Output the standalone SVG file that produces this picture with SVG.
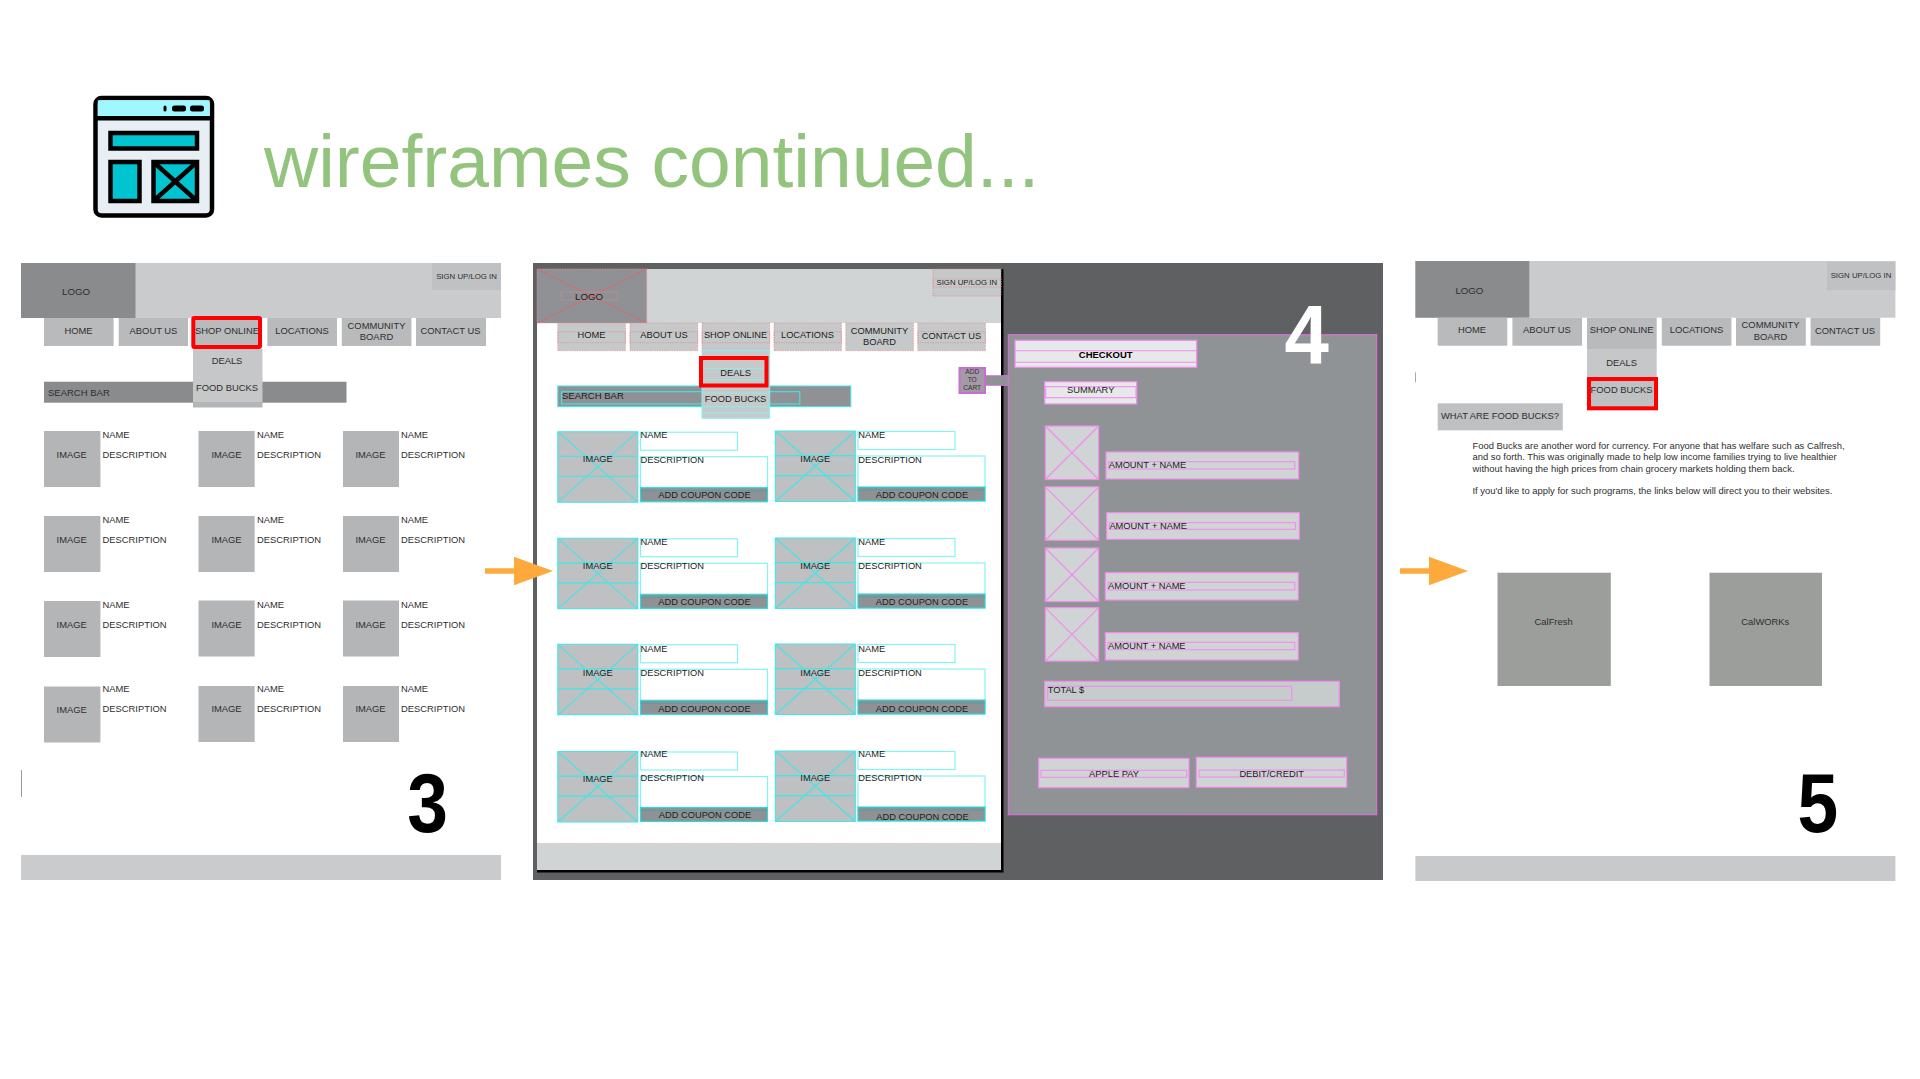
<svg xmlns="http://www.w3.org/2000/svg" xmlns:xlink="http://www.w3.org/1999/xlink" width="1920" height="1079" viewBox="0 0 1920 1079">
<style>
text{font-family:"Liberation Sans",Arial,sans-serif;fill:#2e2e2e;font-size:9.4px}
.m{text-anchor:middle}
.p4 text{fill:#1c1c1c;font-size:9.3px}
text.big{font-size:84px;font-weight:700;fill:#000;text-anchor:middle}
.sm{font-size:7.8px}
.g1{fill:#cacbcd}.g2{fill:#8a8b8d}.g3{fill:#b9babc}.g4{fill:#b4b5b7}.g5{fill:#c6c7c9}
.red{fill:none;stroke:#f00;stroke-width:4}
.cy{fill:none;stroke:#3fe6ea;stroke-width:1.1}
.cyl{fill:#fff;stroke:#86f2f2;stroke-width:1.2}
.rd{fill:#c6c9ca;stroke:#e58a92;stroke-width:.7;stroke-dasharray:1.5 1}
.rl{fill:none;stroke:#e58a92;stroke-width:.7;stroke-dasharray:1.5 1}
.pk{fill:#d0d4d5;stroke:#f48af0;stroke-width:1.2}
.pn{fill:none;stroke:#f48af0;stroke-width:1.1}
.ar{fill:#fda93c}
.ik{stroke:#000;stroke-width:4.5}
</style>
<defs>
<g id="card">
<rect class="cyl" x="82.7" y="0.5" width="97" height="18"/>
<rect class="cyl" x="82.7" y="25" width="127" height="45"/>
<rect x="82.7" y="56" width="127" height="14" fill="#8f9194" stroke="#1fe0e4" stroke-width="1.1"/>
<line x1="82.7" y1="59" x2="209.7" y2="59" stroke="#3aa7ab" stroke-width=".8"/>
<rect x="0" y="0" width="80" height="70.5" fill="#bec0c1"/>
<path class="cy" d="M0 0H80V70.5H0ZM0 0L80 70.5M80 0L0 70.5M0 24.6H80M0 44.6H80"/>
</g>
<g id="thumb">
<rect class="pk" width="53.4" height="53.5"/>
<path class="pn" d="M0 0L53.4 53.5M53.4 0L0 53.5"/>
</g>
<path id="arrow" d="M0 -2.8H29V-14.2L68 0L29 14.2V2.8H0Z"/>
</defs>
<rect width="1920" height="1079" fill="#fff"/>

<g id="icon">
<rect x="95.5" y="98" width="116.5" height="117.5" rx="6" fill="#e8eff4" class="ik"/>
<path d="M97.8 100.3H209.7V116H97.8Z" fill="#9ff7ff"/>
<rect x="95.5" y="116" width="116.5" height="4.5" fill="#000"/>
<rect x="163.5" y="105.5" width="3" height="6" rx="1.5" fill="#000"/>
<rect x="172" y="105.5" width="14" height="6" rx="2.5" fill="#000"/>
<rect x="190" y="105.5" width="14" height="6" rx="2.5" fill="#000"/>
<rect x="110.5" y="133" width="86.5" height="15.5" fill="#00c4cf" class="ik"/>
<rect x="110.5" y="162" width="29" height="39" fill="#00c4cf" class="ik"/>
<rect x="153.5" y="162" width="43.5" height="39" fill="#00c4cf" class="ik"/>
<path d="M153.5 162L197 201M197 162L153.5 201" class="ik" fill="none"/>
</g>
<text id="title" x="264" y="187" style="font-size:75px;fill:#93c47d">wireframes continued...</text>

<g id="wireframe-3">
<rect class="g1" x="21" y="263" width="480" height="55"/>
<rect class="g2" x="21" y="263" width="114.5" height="55"/>
<rect x="432" y="263" width="69" height="27" fill="#c0c1c3"/>
<text class="m" x="76" y="294.5" style="font-size:9.7px">LOGO</text>
<text class="m sm" x="466.5" y="279">SIGN UP/LOG IN</text>
<rect class="g2" x="44" y="381.7" width="302.5" height="21"/>
<text x="48" y="395.5" style="font-size:9.5px">SEARCH BAR</text>
<rect class="g3" x="44" y="318" width="69.6" height="28"/><text class="m" x="78.5" y="334">HOME</text>
<rect class="g3" x="118.7" y="318" width="69.3" height="28"/><text class="m" x="153.5" y="334">ABOUT US</text>
<rect class="g3" x="193" y="318" width="69" height="28"/><text class="m" x="227" y="334">SHOP ONLINE</text>
<rect class="g3" x="267.4" y="318" width="69.6" height="28"/><text class="m" x="302" y="334">LOCATIONS</text>
<rect class="g3" x="341.8" y="318" width="69.6" height="28"/><text class="m" x="376.5" y="329">COMMUNITY</text><text class="m" x="376.5" y="340">BOARD</text>
<rect class="g3" x="416" y="318" width="70" height="28"/><text class="m" x="450.5" y="334">CONTACT US</text>
<rect class="g5" x="193" y="349" width="69.5" height="53"/>
<rect class="g4" x="193" y="402" width="69.5" height="5.5"/>
<text class="m" x="227" y="364.3">DEALS</text>
<text class="m" x="227" y="391.3">FOOD BUCKS</text>
<rect class="red" x="193.3" y="318" width="66.7" height="29" rx="1"/>
<g class="g4">
<rect x="44" y="431" width="56.4" height="56"/><rect x="198.5" y="431" width="56.2" height="56"/><rect x="343" y="431" width="56" height="56"/>
<rect x="44" y="516" width="56.4" height="56"/><rect x="198.5" y="516" width="56.2" height="56"/><rect x="343" y="516" width="56" height="56"/>
<rect x="44" y="601" width="56.4" height="56"/><rect x="198.5" y="600.5" width="56.2" height="56"/><rect x="343" y="600.5" width="56" height="56"/>
<rect x="44" y="686.5" width="56.4" height="56"/><rect x="198.5" y="686" width="56.2" height="56"/><rect x="343" y="686" width="56" height="56"/>
</g>
<text class="m" x="71.7" y="457.5">IMAGE</text><text class="m" x="226.5" y="457.5">IMAGE</text><text class="m" x="370.5" y="457.5">IMAGE</text>
<text class="m" x="71.7" y="542.7">IMAGE</text><text class="m" x="226.5" y="542.7">IMAGE</text><text class="m" x="370.5" y="542.7">IMAGE</text>
<text class="m" x="71.7" y="627.7">IMAGE</text><text class="m" x="226.5" y="627.7">IMAGE</text><text class="m" x="370.5" y="627.7">IMAGE</text>
<text class="m" x="71.7" y="713">IMAGE</text><text class="m" x="226.5" y="712">IMAGE</text><text class="m" x="370.5" y="712">IMAGE</text>
<text x="102.5" y="437.5">NAME</text><text x="257" y="437.5">NAME</text><text x="401" y="437.5">NAME</text>
<text x="102.5" y="457.5">DESCRIPTION</text><text x="257" y="457.5">DESCRIPTION</text><text x="401" y="457.5">DESCRIPTION</text>
<text x="102.5" y="522.5">NAME</text><text x="257" y="522.5">NAME</text><text x="401" y="522.5">NAME</text>
<text x="102.5" y="542.7">DESCRIPTION</text><text x="257" y="542.7">DESCRIPTION</text><text x="401" y="542.7">DESCRIPTION</text>
<text x="102.5" y="607.5">NAME</text><text x="257" y="607.5">NAME</text><text x="401" y="607.5">NAME</text>
<text x="102.5" y="627.7">DESCRIPTION</text><text x="257" y="627.7">DESCRIPTION</text><text x="401" y="627.7">DESCRIPTION</text>
<text x="102.5" y="692.3">NAME</text><text x="257" y="692.3">NAME</text><text x="401" y="692.3">NAME</text>
<text x="102.5" y="712">DESCRIPTION</text><text x="257" y="712">DESCRIPTION</text><text x="401" y="712">DESCRIPTION</text>
<line x1="21.5" y1="770" x2="21.5" y2="797" stroke="#9a9a9a"/>
<text class="big" transform="translate(427.6 832) scale(.87 1)">3</text>
<rect class="g1" x="21" y="855" width="480" height="25"/>
</g>

<g id="wireframe-4" class="p4">
<rect x="533" y="263" width="850" height="617" fill="#5f6062"/>
<rect x="537" y="269" width="466.5" height="603.5" fill="#000"/>
<rect x="537" y="269" width="464" height="601" fill="#fff"/>
<rect x="537" y="269" width="464" height="54" fill="#d0d4d5"/>
<rect x="537" y="269" width="109.7" height="54" fill="#8f9194"/>
<path d="M537 269L646.7 323M646.7 269L537 323" fill="none" stroke="#e8606a" stroke-width=".8"/>
<rect class="rl" x="537" y="269" width="109.7" height="54"/>
<rect class="rl" x="561" y="292" width="56.6" height="8"/>
<text class="m" x="589" y="299.7" style="font-size:9.7px">LOGO</text>
<rect class="rd" x="933" y="269" width="68" height="27"/>
<rect class="rl" x="933" y="279" width="68" height="8"/>
<text class="m sm" x="966.8" y="285.2" style="font-size:7.8px">SIGN UP/LOG IN</text>
<rect class="rd" x="557.8" y="323" width="67.6" height="27.7"/><rect class="rl" x="557.8" y="331.7" width="67.6" height="11"/><text class="m" x="591.5" y="338">HOME</text>
<rect class="rd" x="630" y="323" width="67.7" height="27.7"/><rect class="rl" x="630" y="331.7" width="67.7" height="11"/><text class="m" x="664" y="338">ABOUT US</text>
<rect class="rd" x="702" y="323" width="67.7" height="27.7"/><rect class="rl" x="702" y="331.7" width="67.7" height="11"/><text class="m" x="735.6" y="338">SHOP ONLINE</text>
<rect class="rd" x="774" y="323" width="67.4" height="27.7"/><rect class="rl" x="774" y="331.7" width="67.4" height="11"/><text class="m" x="807.5" y="338">LOCATIONS</text>
<rect class="rd" x="845.8" y="323" width="67.6" height="27.7"/><text class="m" x="879.5" y="333.5">COMMUNITY</text><text class="m" x="879.5" y="344.5">BOARD</text>
<rect class="rd" x="917.8" y="323" width="67.6" height="27.7"/><rect class="rl" x="917.8" y="331.7" width="67.6" height="11"/><text class="m" x="951.5" y="338.7">CONTACT US</text>
<rect x="557.8" y="386" width="293" height="20.7" fill="#8f9194" stroke="#3fe6ea" stroke-width="1"/>
<rect class="cy" x="561.5" y="391.7" width="238.3" height="12.3"/>
<text x="562" y="399.3" style="font-size:9.5px">SEARCH BAR</text>
<rect x="702" y="350.7" width="67.7" height="67.6" fill="#c6c9ca" stroke="#86f2f2" stroke-width="1"/>
<path d="M702 368.3H769.7M702 380H769.7M702 393H769.7M702 406.7H769.7M702 412.7H769.7" fill="none" stroke="#86f2f2" stroke-width=".9"/>
<text class="m" x="735.6" y="375.5">DEALS</text>
<text class="m" x="735.6" y="402">FOOD BUCKS</text>
<rect class="red" x="701" y="358" width="65.5" height="27.5"/>

<use xlink:href="#card" href="#card" x="557.8" y="431.7"/>
<use xlink:href="#card" href="#card" x="775.3" y="431"/>
<use xlink:href="#card" href="#card" x="557.8" y="538.3"/>
<use xlink:href="#card" href="#card" x="775.3" y="538"/>
<use xlink:href="#card" href="#card" x="557.8" y="644.3"/>
<use xlink:href="#card" href="#card" x="775.3" y="644"/>
<use xlink:href="#card" href="#card" x="557.8" y="751.5"/>
<use xlink:href="#card" href="#card" x="775.3" y="751"/>

<text class="m" x="597.8" y="462">IMAGE</text><text class="m" x="815.3" y="462">IMAGE</text>
<text x="640.5" y="438">NAME</text><text x="858.3" y="438">NAME</text>
<text x="640.5" y="462.5">DESCRIPTION</text><text x="858.3" y="462.5">DESCRIPTION</text>
<text class="m" x="704.5" y="498.3">ADD COUPON CODE</text><text class="m" x="922" y="497.7">ADD COUPON CODE</text>
<text class="m" x="597.8" y="569">IMAGE</text><text class="m" x="815.3" y="569">IMAGE</text>
<text x="640.5" y="544.5">NAME</text><text x="858.3" y="544.5">NAME</text>
<text x="640.5" y="569">DESCRIPTION</text><text x="858.3" y="569">DESCRIPTION</text>
<text class="m" x="704.5" y="605">ADD COUPON CODE</text><text class="m" x="922" y="604.7">ADD COUPON CODE</text>
<text class="m" x="597.8" y="675.5">IMAGE</text><text class="m" x="815.3" y="675.5">IMAGE</text>
<text x="640.5" y="651.5">NAME</text><text x="858.3" y="651.5">NAME</text>
<text x="640.5" y="675.5">DESCRIPTION</text><text x="858.3" y="675.5">DESCRIPTION</text>
<text class="m" x="704.5" y="712">ADD COUPON CODE</text><text class="m" x="922" y="712">ADD COUPON CODE</text>
<text class="m" x="597.8" y="782.2">IMAGE</text><text class="m" x="815.3" y="781.2">IMAGE</text>
<text x="640.5" y="757">NAME</text><text x="858.3" y="757">NAME</text>
<text x="640.5" y="781.2">DESCRIPTION</text><text x="858.3" y="781.2">DESCRIPTION</text>
<text class="m" x="705" y="817.7">ADD COUPON CODE</text><text class="m" x="922.5" y="819.7">ADD COUPON CODE</text>

<rect x="537" y="843.3" width="464" height="26.7" fill="#d0d4d5"/>
<line x1="537" y1="843.3" x2="1001" y2="843.3" class="rl" style="opacity:.5"/>

<rect x="985" y="375.7" width="24" height="9.6" fill="#8f9194" stroke="#cf7ad6" stroke-width="1"/>
<rect x="959.5" y="368" width="25.5" height="25" fill="#a39aa6" stroke="#c66fd0" stroke-width="2"/>
<text class="m" x="972.2" y="374" style="font-size:6.6px;fill:#333">ADD</text>
<text class="m" x="972.2" y="382.3" style="font-size:6.6px;fill:#333">TO</text>
<text class="m" x="972.2" y="390.3" style="font-size:6.6px;fill:#333">CART</text>

<rect x="1008.3" y="334.7" width="368.4" height="480" fill="#8f9396" stroke="#e06fe0" stroke-width="1.1"/>
<text class="big" transform="translate(1306.7 364) scale(.95 1)" style="fill:#fff;font-size:84px">4</text>
<rect x="1015" y="340.3" width="181.7" height="27" fill="#e6e8e9" stroke="#f48af0" stroke-width="1.2"/>
<path class="pn" d="M1015 350.7H1196.7M1015 362.3H1196.7"/>
<text class="m" x="1105.7" y="358.3" style="font-weight:700;font-size:9.5px;fill:#000">CHECKOUT</text>
<rect x="1044.7" y="381.7" width="92" height="22.3" fill="#e6e8e9" stroke="#f48af0" stroke-width="1.2"/>
<rect class="pn" x="1045.7" y="386.7" width="90.3" height="11"/>
<text class="m" x="1090.7" y="393.3">SUMMARY</text>

<use xlink:href="#thumb" href="#thumb" x="1045.3" y="426"/>
<use xlink:href="#thumb" href="#thumb" x="1045.3" y="486.8"/>
<use xlink:href="#thumb" href="#thumb" x="1045.3" y="548"/>
<use xlink:href="#thumb" href="#thumb" x="1045.3" y="607.6"/>

<rect class="pk" x="1106" y="452" width="192.7" height="27"/><rect class="pn" x="1108.7" y="461.7" width="186" height="7.3"/><text x="1108.7" y="468.3">AMOUNT + NAME</text>
<rect class="pk" x="1106.7" y="512.7" width="192.6" height="26.6"/><rect class="pn" x="1109.4" y="522.7" width="186" height="6.6"/><text x="1109.4" y="529">AMOUNT + NAME</text>
<rect class="pk" x="1105.3" y="572.7" width="193" height="27.3"/><rect class="pn" x="1108" y="582.3" width="186.7" height="7.7"/><text x="1108" y="588.7">AMOUNT + NAME</text>
<rect class="pk" x="1105.3" y="632.7" width="193" height="27.3"/><rect class="pn" x="1108" y="642.3" width="186.7" height="7.4"/><text x="1108" y="649">AMOUNT + NAME</text>
<rect x="1044.7" y="681.3" width="294.6" height="25.4" fill="#c6cbcc" stroke="#f48af0" stroke-width="1.2"/>
<rect class="pn" x="1047.7" y="686.3" width="244" height="14"/>
<text x="1047.7" y="693.3">TOTAL $</text>
<rect class="pk" x="1038.7" y="758.3" width="150.3" height="29.4"/><rect class="pn" x="1041" y="770.3" width="145.7" height="7"/><text class="m" x="1114" y="777">APPLE PAY</text>
<rect class="pk" x="1196.3" y="757.3" width="150.4" height="30"/><rect class="pn" x="1199" y="770" width="145.3" height="7"/><text class="m" x="1271.7" y="776.7">DEBIT/CREDIT</text>
</g>

<g id="wireframe-5">
<rect class="g1" x="1415.4" y="261" width="480" height="56.7"/>
<rect class="g2" x="1415.4" y="261" width="113.9" height="56.7"/>
<rect x="1827" y="262" width="68.4" height="28" fill="#c0c1c3"/>
<text class="m" x="1469.4" y="293.7" style="font-size:9.7px">LOGO</text>
<text class="m sm" x="1861" y="278.3">SIGN UP/LOG IN</text>
<rect class="g3" x="1437.7" y="317.7" width="69.6" height="28"/><text class="m" x="1472" y="333.3">HOME</text>
<rect class="g3" x="1512.4" y="317.7" width="69.6" height="28"/><text class="m" x="1547" y="333.3">ABOUT US</text>
<rect class="g3" x="1587" y="317.7" width="69.7" height="31.3"/><text class="m" x="1621.6" y="333.3">SHOP ONLINE</text>
<rect class="g3" x="1661.8" y="317.7" width="69.6" height="28"/><text class="m" x="1696.5" y="333.3">LOCATIONS</text>
<rect class="g3" x="1736" y="317.7" width="69.8" height="28"/><text class="m" x="1770.5" y="328.3">COMMUNITY</text><text class="m" x="1770.5" y="339.5">BOARD</text>
<rect class="g3" x="1810.6" y="317.7" width="69.6" height="28"/><text class="m" x="1845" y="333.5">CONTACT US</text>
<rect class="g5" x="1587" y="349" width="69.7" height="28"/>
<text class="m" x="1621.6" y="366">DEALS</text>
<rect x="1589" y="379" width="67" height="29.3" fill="#bfc0c2" stroke="#f00" stroke-width="4"/>
<text class="m" x="1621.6" y="392.7">FOOD BUCKS</text>
<line x1="1415.5" y1="372.3" x2="1415.5" y2="382.3" stroke="#aaa"/>
<rect x="1437.7" y="403.3" width="125.1" height="27" fill="#bfc0c2"/>
<text x="1441" y="419">WHAT ARE FOOD BUCKS?</text>
<text x="1472.5" y="449" style="font-size:9.42px">Food Bucks are another word for currency. For anyone that has welfare such as Calfresh,</text>
<text x="1472.5" y="460.3" style="font-size:9.42px">and so forth. This was originally made to help low income families trying to live healthier</text>
<text x="1472.5" y="471.7" style="font-size:9.42px">without having the high prices from chain grocery markets holding them back.</text>
<text x="1472.5" y="494.3" style="font-size:9.42px">If you'd like to apply for such programs, the links below will direct you to their websites.</text>
<rect x="1497.5" y="572.7" width="113.3" height="113.3" fill="#9c9e9b"/>
<text class="m" x="1553.6" y="625" style="font-size:9.4px">CalFresh</text>
<rect x="1709.5" y="572.7" width="112.5" height="113.3" fill="#9c9e9b"/>
<text class="m" x="1765.3" y="625" style="font-size:9.4px">CalWORKs</text>
<text class="big" transform="translate(1817.7 832) scale(.87 1)">5</text>
<rect x="1415.4" y="856" width="480" height="25" fill="#c8c9cb"/>
</g>

<g id="connectors">
<use class="ar" xlink:href="#arrow" href="#arrow" x="485" y="571"/>
<use class="ar" xlink:href="#arrow" href="#arrow" x="1400" y="571"/>
</g>
</svg>
